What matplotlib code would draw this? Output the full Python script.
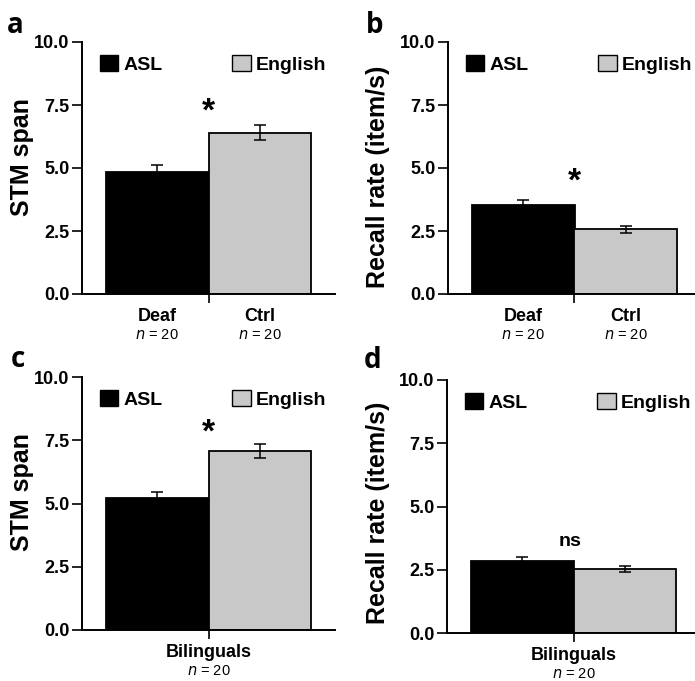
import matplotlib
matplotlib.use('Agg')
import matplotlib.pyplot as plt
from matplotlib.patches import Patch

plt.rcParams['font.family'] = ['Liberation Sans', 'DejaVu Sans']

# ---------------------------------------------------------------------------
# data
# ---------------------------------------------------------------------------
series = ['ASL', 'English']
colors = ['#000000', '#c8c8c8']

groups_ab = ['Deaf', 'Ctrl']
groups_cd = ['Bilinguals']
n_label = '= 20'

stm_deaf_ctrl = [4.85, 6.40]
stm_deaf_ctrl_err = [0.27, 0.30]
rate_deaf_ctrl = [3.53, 2.57]
rate_deaf_ctrl_err = [0.20, 0.14]

stm_bil = [5.22, 7.07]
stm_bil_err = [0.22, 0.28]
rate_bil = [2.85, 2.52]
rate_bil_err = [0.16, 0.12]

sig_ab = ['*', '*']
sig_cd = ['*', 'ns']
sig_y = [7.2, 4.45, 7.8, 3.6]

yticks = [0.0, 2.5, 5.0, 7.5, 10.0]


def draw_panel(ax, vals, errs, groups, ylabel, sig, sig_y_val, label_xy):
    x = list(range(len(series)))
    ax.bar(x, vals, width=1.0, color=colors, edgecolor='black', linewidth=1.3, zorder=2)
    for xi, v, e in zip(x, vals, errs):
        ax.errorbar(xi, v, yerr=e, fmt='none', ecolor='black', elinewidth=1.1,
                    capsize=4.5, capthick=1.1, zorder=3)
    ax.set_xlim(-0.73, 1.73)
    ax.set_ylim(0, 10)
    ax.set_yticks(yticks)
    ax.set_yticklabels([f'{t:.1f}' for t in yticks], fontsize=13, fontweight='bold')
    ax.set_xticks([0.5])
    ax.set_xticklabels([''])
    ax.tick_params(axis='y', length=7, width=1.2, pad=2)
    ax.tick_params(axis='x', length=6.5, width=1.2)
    for s in ['top', 'right']:
        ax.spines[s].set_visible(False)
    for s in ['left', 'bottom']:
        ax.spines[s].set_linewidth(1.4)
    ax.set_ylabel(ylabel, fontsize=18, fontweight='bold')
    ax.yaxis.set_label_coords(*label_xy)
    ax.yaxis.label.set_verticalalignment('center')

    tr = ax.get_xaxis_transform()
    if len(groups) == 2:
        label_x = x
    else:
        label_x = [0.5]
    for gx, g in zip(label_x, groups):
        ax.text(gx, -0.09, g, transform=tr, ha='center', va='center',
                fontsize=13, fontweight='bold')
        ax.text(gx, -0.163, r'$\it{n}$ ' + n_label, transform=tr, ha='center',
                va='center', fontsize=10.5)

    if sig == '*':
        ax.text(0.5, sig_y_val, '*', ha='center', va='center', fontsize=24,
                fontweight='bold')
    else:
        ax.text(0.47, sig_y_val, sig, ha='center', va='center', fontsize=14,
                fontweight='bold')

    handles = [Patch(facecolor=c, edgecolor='black', linewidth=1.0) for c in colors]
    ax.legend(handles, series, loc='upper left', bbox_to_anchor=(0.04, 0.98),
              ncol=2, frameon=False, prop={'size': 14, 'weight': 'bold'},
              handlelength=0.95, handleheight=0.9, handletextpad=0.25,
              columnspacing=3.6, borderaxespad=0)


fig = plt.figure(figsize=(6.95, 6.81), dpi=100)
W, H = 695.0, 681.0

def add_axes(left, top, bottom, right):
    return fig.add_axes([left / W, 1 - bottom / H, (right - left) / W, (bottom - top) / H])

ax_a = add_axes(82, 42, 294, 335)
ax_b = add_axes(448, 42, 294, 701)
ax_c = add_axes(82, 377, 630, 335)
ax_d = add_axes(447, 380, 633, 700)

draw_panel(ax_a, stm_deaf_ctrl, stm_deaf_ctrl_err, groups_ab, 'STM span',
           sig_ab[0], sig_y[0], (-0.237, 0.544))
draw_panel(ax_b, rate_deaf_ctrl, rate_deaf_ctrl_err, groups_ab, 'Recall rate (item/s)',
           sig_ab[1], sig_y[1], (-0.277, 0.464))
draw_panel(ax_c, stm_bil, stm_bil_err, groups_cd, 'STM span',
           sig_cd[0], sig_y[2], (-0.237, 0.545))
draw_panel(ax_d, rate_bil, rate_bil_err, groups_cd, 'Recall rate (item/s)',
           sig_cd[1], sig_y[3], (-0.273, 0.474))

for lab, lx, ly in [('a', 7, 33), ('b', 366, 33), ('c', 11, 367), ('d', 364, 368)]:
    fig.text(lx / W, 1 - ly / H, lab, fontsize=20, fontweight='bold', va='baseline',
             family=['Open Sans', 'DejaVu Sans'])

fig.savefig('out.png', dpi=100)
